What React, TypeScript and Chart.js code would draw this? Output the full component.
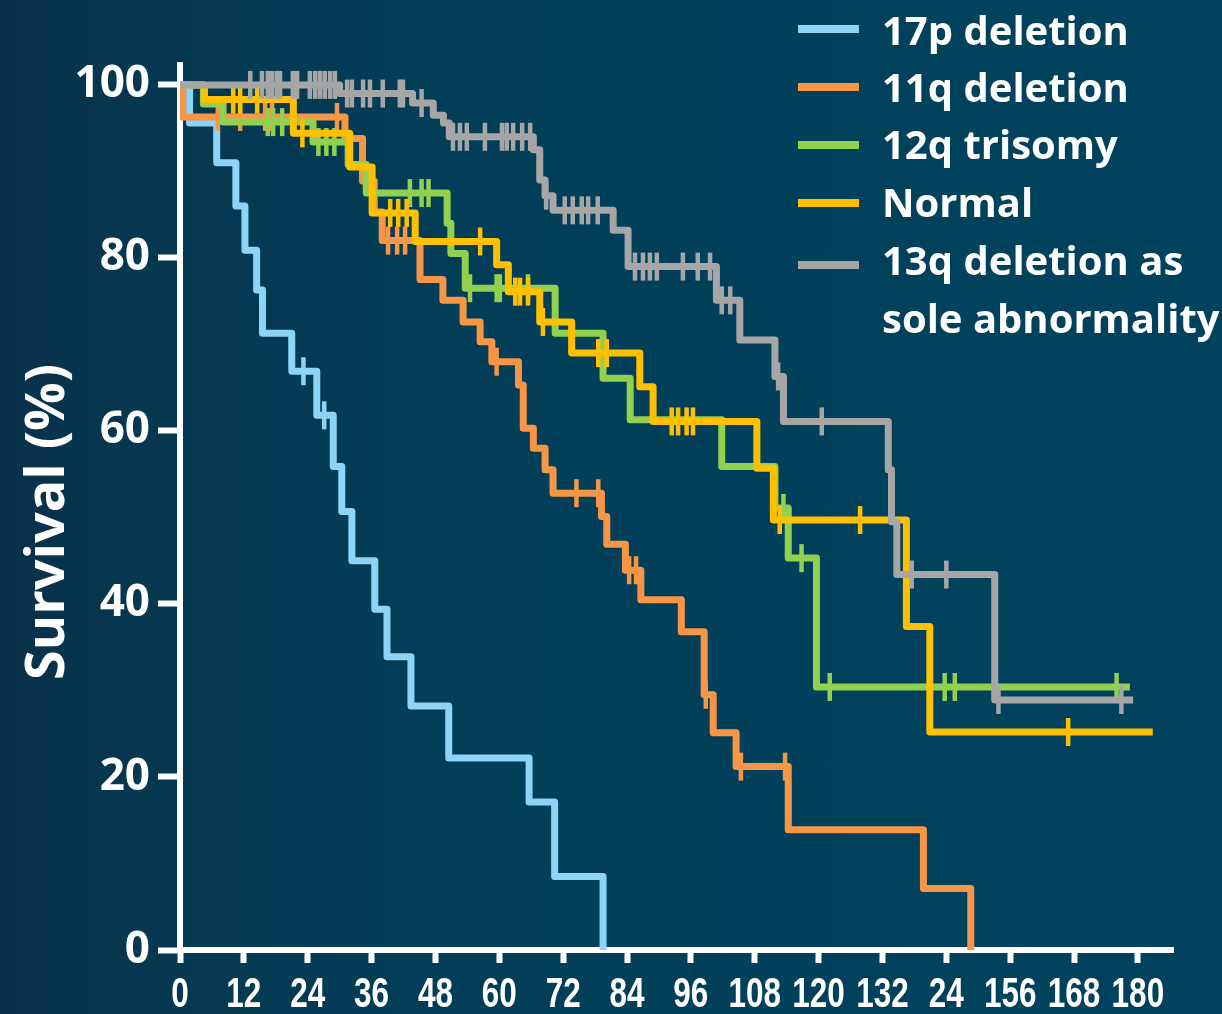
import React, { useEffect, useRef } from 'react';
import { Chart, registerables } from 'chart.js';

Chart.register(...registerables);

// Months from diagnosis at which each curve steps down, and the survival (%) after the step.
const del17pTimes = [0, 1.8, 6.9, 10.5, 12.2, 14.4, 15.5, 21.0, 25.7, 28.8, 30.4, 32.3, 36.6, 38.9, 43.4, 50.5, 65.6, 70.4, 79.5];
const del17pSurvival = [100, 95.6, 91.0, 86.0, 80.9, 76.3, 71.3, 66.9, 61.8, 55.9, 50.7, 45.0, 39.4, 33.9, 28.2, 22.2, 17.1, 8.5, 0];
const del17pCensored = [23.2, 27.1];

const del11qTimes = [0, 0.5, 31.0, 34.3, 36.5, 38.0, 45.1, 49.4, 53.2, 56.4, 58.6, 63.6, 64.5, 66.4, 68.6, 70.1, 79.2, 80.2, 83.7, 86.6, 94.2, 98.5, 100.2, 104.5, 114.3, 139.7, 148.6];
const del11qSurvival = [100, 96.3, 93.8, 88.9, 85.3, 82.0, 77.5, 75.1, 72.6, 70.3, 68.0, 65.3, 60.3, 58.0, 55.5, 52.8, 50.1, 46.9, 43.9, 40.5, 36.8, 29.5, 25.1, 21.2, 13.9, 7.1, 0];
const del11qCensored = [7.1, 11.3, 16.0, 17.3, 29.5, 39.1, 40.8, 42.3, 59.5, 74.5, 78.6, 84.4, 85.7, 98.8, 105.4, 113.7];

const tri12qTimes = [0, 4.4, 8.1, 25.0, 31.6, 35.0, 50.2, 50.9, 53.6, 70.5, 79.5, 84.6, 101.8, 111.8, 114.3, 119.6, 178.5];
const tri12qSurvival = [100, 97.8, 95.7, 93.4, 90.8, 87.5, 84.0, 80.5, 76.5, 71.3, 66.1, 61.3, 55.9, 51.1, 45.3, 30.4, 30.4];
const tri12qCensored = [16.5, 17.5, 19.2, 26.0, 27.5, 29.0, 43.2, 45.4, 46.7, 54.5, 59.5, 60.1, 65.4, 113.4, 116.8, 122.1, 143.7, 145.6, 176.0];

const normalTimes = [0, 4.6, 21.3, 31.9, 36.1, 44.2, 59.5, 61.7, 67.6, 73.6, 86.4, 88.9, 108.4, 111.5, 136.5, 140.9, 182.8];
const normalSurvival = [100, 98.3, 94.4, 90.5, 85.2, 81.9, 79.2, 76.1, 72.6, 69.0, 65.1, 61.1, 55.7, 49.7, 37.4, 25.2, 25.2];
const normalCensored = [10.0, 11.3, 14.5, 23.0, 39.5, 41.0, 42.6, 56.4, 63.0, 63.9, 65.4, 68.2, 78.6, 80.2, 92.4, 93.6, 95.2, 96.4, 112.7, 127.8, 166.9];

const del13qTimes = [0, 30.0, 43.7, 47.6, 49.5, 50.6, 66.4, 67.6, 68.6, 70.1, 81.4, 84.2, 100.8, 105.2, 111.8, 113.4, 133.1, 133.7, 134.7, 153.1, 179.1];
const del13qSurvival = [100, 99.0, 97.9, 96.5, 95.6, 94.0, 92.5, 89.0, 87.2, 85.5, 83.2, 79.0, 75.1, 70.5, 66.3, 61.1, 55.5, 49.5, 43.4, 28.9, 28.9];
const del13qCensored = [13.2, 15.4, 16.5, 17.3, 18.2, 18.8, 21.2, 22.0, 24.4, 25.4, 26.3, 27.2, 28.2, 29.1, 31.4, 32.3, 34.4, 35.7, 38.1, 41.3, 41.9, 45.4, 51.3, 52.6, 53.9, 57.3, 60.5, 61.4, 62.6, 64.3, 65.8, 68.8, 72.3, 73.8, 75.5, 76.7, 78.5, 85.5, 87.0, 88.3, 89.6, 94.5, 97.3, 99.6, 101.8, 103.4, 112.4, 120.6, 137.5, 144.0, 153.8, 176.9];

// Axis tick labels as printed (the 144 position carries the label "24").
const xTickValues = [0, 12, 24, 36, 48, 60, 72, 84, 96, 108, 120, 132, 144, 156, 168, 180];
const xTickLabels = ['0', '12', '24', '36', '48', '60', '72', '84', '96', '108', '120', '132', '24', '156', '168', '180'];
const yTickValues = [0, 20, 40, 60, 80, 100];

const legendLabels = ['17p deletion', '11q deletion', '12q trisomy', 'Normal', '13q deletion as\nsole abnormality'];

const series = [
  { label: legendLabels[0], color: '#8ed3f8', times: del17pTimes, surv: del17pSurvival, cens: del17pCensored, order: 5 },
  { label: legendLabels[1], color: '#f79646', times: del11qTimes, surv: del11qSurvival, cens: del11qCensored, order: 4 },
  { label: legendLabels[2], color: '#92d050', times: tri12qTimes, surv: tri12qSurvival, cens: tri12qCensored, order: 3 },
  { label: legendLabels[3], color: '#ffc000', times: normalTimes, surv: normalSurvival, cens: normalCensored, order: 2 },
  { label: legendLabels[4], color: '#a6a6a6', times: del13qTimes, surv: del13qSurvival, cens: del13qCensored, order: 1 },
];

// Survival level of a step curve at a given time.
function survivalAt(times: number[], surv: number[], t: number): number {
  let v = surv[0];
  for (let i = 0; i < times.length; i++) {
    if (times[i] <= t) v = surv[i];
  }
  return v;
}

const FONT_SANS = '"Open Sans", "DejaVu Sans", sans-serif';
const FONT_TICK = '"Liberation Sans", Arial, sans-serif';

// Rotated y-axis title.
const yTitlePlugin = {
  id: 'yTitle',
  afterDraw(chart: any) {
    const ctx = chart.ctx;
    ctx.save();
    ctx.translate(49, 522);
    ctx.rotate(-Math.PI / 2);
    ctx.fillStyle = '#ffffff';
    ctx.font = `bold 54px ${FONT_SANS}`;
    ctx.textAlign = 'center';
    ctx.textBaseline = 'middle';
    ctx.fillText('Survival (%)', 0, 0);
    ctx.restore();
  },
};

// Condensed month labels under the x axis.
const xLabelPlugin = {
  id: 'xLabels',
  afterDraw(chart: any) {
    const ctx = chart.ctx;
    const xs = chart.scales.x;
    ctx.save();
    ctx.fillStyle = '#ffffff';
    ctx.font = `bold 42px ${FONT_TICK}`;
    ctx.textAlign = 'center';
    ctx.textBaseline = 'alphabetic';
    xTickValues.forEach((v, i) => {
      ctx.save();
      ctx.translate(xs.getPixelForValue(v), 1007);
      ctx.scale(0.75, 1);
      ctx.fillText(xTickLabels[i], 0, 0);
      ctx.restore();
    });
    ctx.restore();
  },
};

export default function App() {
  const canvasRef = useRef<HTMLCanvasElement | null>(null);

  useEffect(() => {
    document.body.style.margin = '0';
    const canvas = canvasRef.current;
    if (!canvas) return;

    const datasets: any[] = [];
    series.forEach((s) => {
      datasets.push({
        type: 'line',
        label: s.label,
        data: s.times.map((t, i) => ({ x: t, y: s.surv[i] })),
        borderColor: s.color,
        borderWidth: 7,
        stepped: true,
        pointRadius: 0,
        fill: false,
        borderJoinStyle: 'round',
        order: s.order,
      });
      datasets.push({
        type: 'line',
        label: s.label + ' censored',
        data: s.cens.map((t) => ({ x: t, y: survivalAt(s.times, s.surv, t) })),
        showLine: false,
        pointStyle: 'line',
        pointRotation: 90,
        pointRadius: 14,
        pointBorderWidth: 4.5,
        pointBorderColor: s.color,
        pointBackgroundColor: s.color,
        borderColor: s.color,
        order: s.order,
      });
    });

    const chart = new Chart(canvas, {
      type: 'line',
      data: { datasets },
      plugins: [yTitlePlugin, xLabelPlugin],
      options: {
        animation: false,
        responsive: true,
        maintainAspectRatio: false,
        events: [],
        layout: { padding: { top: 65, right: 49, left: 0, bottom: 0 } },
        plugins: {
          legend: { display: false },
          tooltip: { enabled: false },
        },
        scales: {
          x: {
            type: 'linear',
            min: 0,
            max: 186.6,
            afterFit: (scale: any) => {
              scale.height = 64;
            },
            afterBuildTicks: (scale: any) => {
              scale.ticks = xTickValues.map((v) => ({ value: v }));
            },
            border: { display: true, color: '#ffffff', width: 6 },
            grid: {
              drawOnChartArea: false,
              drawTicks: true,
              tickLength: 13,
              tickWidth: 6,
              tickColor: '#ffffff',
              color: '#ffffff',
            },
            ticks: {
              display: false,
              autoSkip: false,
              maxRotation: 0,
            },
          },
          y: {
            type: 'linear',
            min: 0,
            max: 102.3,
            afterFit: (scale: any) => {
              scale.width = 180;
            },
            border: { display: true, color: '#ffffff', width: 6 },
            grid: {
              drawOnChartArea: false,
              drawTicks: true,
              tickLength: 22,
              tickWidth: 6,
              tickColor: '#ffffff',
              color: '#ffffff',
            },
            afterBuildTicks: (scale: any) => {
              scale.ticks = yTickValues.map((v) => ({ value: v }));
            },
            ticks: {
              padding: 8,
              color: '#ffffff',
              font: { family: FONT_SANS, weight: 'bold', size: 44 },
            },
          },
        },
      } as any,
    });

    return () => chart.destroy();
  }, []);

  const sampleCenters = [28.7, 87, 144.7, 203, 265.3];
  const textTops = [0.5, 57.5, 114.5, 172.5, 230.5];

  return (
    <div
      style={{
        position: 'relative',
        width: 1222,
        height: 1014,
        overflow: 'hidden',
        backgroundColor: '#01405a',
        background: 'linear-gradient(to right, #09304a 0%, #063850 12%, #023e58 40%, #00435e 100%)',
      }}
    >
      <canvas ref={canvasRef} style={{ position: 'absolute', left: 0, top: 0, width: 1222, height: 1014 }} />
      {series.map((s, i) => (
        <React.Fragment key={s.label}>
          <div
            style={{
              position: 'absolute',
              left: 798,
              top: sampleCenters[i] - 4,
              width: 61,
              height: 8,
              background: s.color,
            }}
          />
          <div
            style={{
              position: 'absolute',
              left: 882,
              top: textTops[i],
              fontFamily: FONT_SANS,
              fontWeight: 700,
              fontSize: 40,
              lineHeight: '58px',
              color: '#ffffff',
              whiteSpace: 'pre',
            }}
          >
            {s.label}
          </div>
        </React.Fragment>
      ))}
    </div>
  );
}
